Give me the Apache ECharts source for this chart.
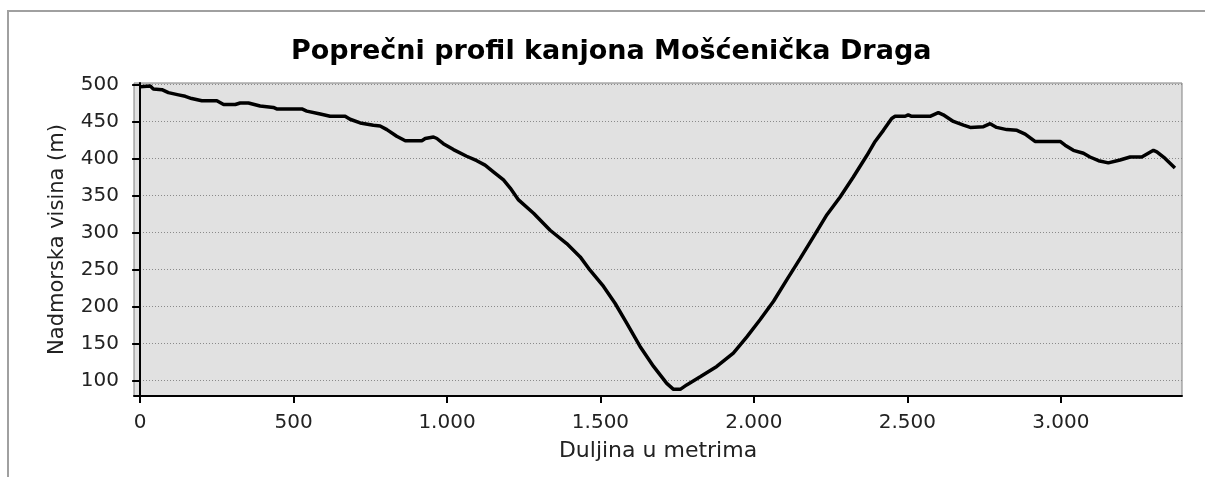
<!DOCTYPE html>
<html>
<head>
<meta charset="utf-8">
<title>Poprečni profil kanjona Mošćenička Draga</title>
<script src="https://cdn.jsdelivr.net/npm/echarts@6.0.0/dist/echarts.min.js"></script>
<style>
  html, body { margin: 0; padding: 0; background: #fff; }
  #profile { width: 1205px; height: 477px; }
</style>
</head>
<body>
<div id="profile"></div>
<script>
// udaljenost (m) i nadmorska visina (m) ocitane sa slike
var distance = [
  0, 33, 43, 71, 92, 125, 147, 168, 201, 250, 272, 310, 326, 353, 391, 434, 445, 527, 543, 587,
  619, 668, 684, 717, 760, 782, 804, 836, 864, 918, 929, 956, 967, 988, 1021, 1064, 1097, 1124, 1151, 1184,
  1206, 1233, 1282, 1336, 1390, 1434, 1466, 1510, 1548, 1586, 1629, 1673, 1716, 1738, 1760, 1781, 1825, 1879, 1933, 1977,
  2020, 2064, 2107, 2151, 2194, 2238, 2281, 2324, 2368, 2395, 2422, 2449, 2460, 2493, 2503, 2514, 2574, 2601, 2617, 2650,
  2683, 2705, 2748, 2770, 2791, 2824, 2857, 2884, 2916, 2998, 3014, 3041, 3074, 3095, 3123, 3155, 3193, 3226, 3264, 3302,
  3313, 3340, 3372
];
var elevation = [
  497, 498, 494, 493, 489, 486, 484, 481, 478, 478, 473, 473, 475, 475, 471, 469, 467, 467, 464, 460,
  457, 457, 453, 448, 445, 444, 439, 430, 424, 424, 427, 429, 427, 420, 412, 403, 397, 391, 382, 371,
  360, 344, 326, 303, 285, 267, 249, 227, 204, 177, 146, 119, 96, 88, 88, 94, 105, 119, 137, 159,
  182, 207, 236, 265, 294, 324, 348, 375, 404, 423, 438, 454, 457, 457, 459, 457, 457, 462, 459, 450,
  445, 442, 443, 447, 442, 439, 438, 433, 423, 423, 418, 411, 407, 402, 397, 394, 398, 402, 402, 411,
  409, 400, 387
];
var xTicks = [0, 500, 1000, 1500, 2000, 2500, 3000];
var yTicks = [100, 150, 200, 250, 300, 350, 400, 450, 500];

var titleText = 'Poprečni profil kanjona Mošćenička Draga';
var xName = 'Duljina u metrima';
var yName = 'Nadmorska visina (m)';

var points = [];
for (var i = 0; i < distance.length; i++) {
  points.push([distance[i], elevation[i]]);
}

function thousands(v) {
  return String(v).replace(/\B(?=(\d{3})+(?!\d))/g, '.');
}

var font = 'DejaVu Sans';
var chart = echarts.init(document.getElementById('profile'), null, { renderer: 'canvas' });

chart.setOption({
  animation: false,
  backgroundColor: '#fff',
  graphic: [{
    type: 'rect',
    silent: true,
    shape: { x: 8, y: 11, width: 1400, height: 600 },
    style: { fill: null, stroke: '#a0a0a0', lineWidth: 2 }
  }],
  title: {
    text: titleText,
    left: 286,
    top: 33,
    textStyle: { fontFamily: font, fontWeight: 'bold', fontSize: 27, color: '#000' }
  },
  grid: {
    left: 134,
    right: 23,
    top: 83,
    bottom: 81,
    show: true,
    backgroundColor: '#e1e1e1',
    borderColor: '#808080',
    borderWidth: 1,
    containLabel: false
  },
  xAxis: {
    type: 'value',
    min: -20,
    max: 3395,
    name: xName,
    nameLocation: 'middle',
    nameGap: 44,
    nameTextStyle: { fontFamily: font, fontSize: 22, color: '#222' },
    axisLine: { lineStyle: { color: '#000', width: 2 } },
    axisTick: { customValues: xTicks, length: 7, lineStyle: { color: '#000', width: 2 } },
    axisLabel: {
      customValues: xTicks,
      margin: 17,
      fontFamily: font,
      fontSize: 20,
      color: '#222',
      formatter: thousands
    },
    splitLine: { show: false }
  },
  yAxis: {
    type: 'value',
    min: 79,
    max: 502,
    name: yName,
    nameLocation: 'middle',
    nameGap: 66,
    nameTextStyle: { fontFamily: font, fontSize: 21, color: '#222' },
    axisLine: { show: true, lineStyle: { color: '#000', width: 2 } },
    axisTick: { show: true, customValues: yTicks, length: 8, lineStyle: { color: '#000', width: 2 } },
    axisLabel: {
      customValues: yTicks,
      margin: 15,
      fontFamily: font,
      fontSize: 20,
      color: '#222'
    },
    splitLine: { show: true, lineStyle: { color: '#8a8a8a', width: 1, type: [1, 2] } }
  },
  series: [{
    type: 'line',
    data: points,
    showSymbol: false,
    smooth: false,
    lineStyle: { color: '#000', width: 3.5 },
    clip: true
  }]
});
</script>
</body>
</html>
